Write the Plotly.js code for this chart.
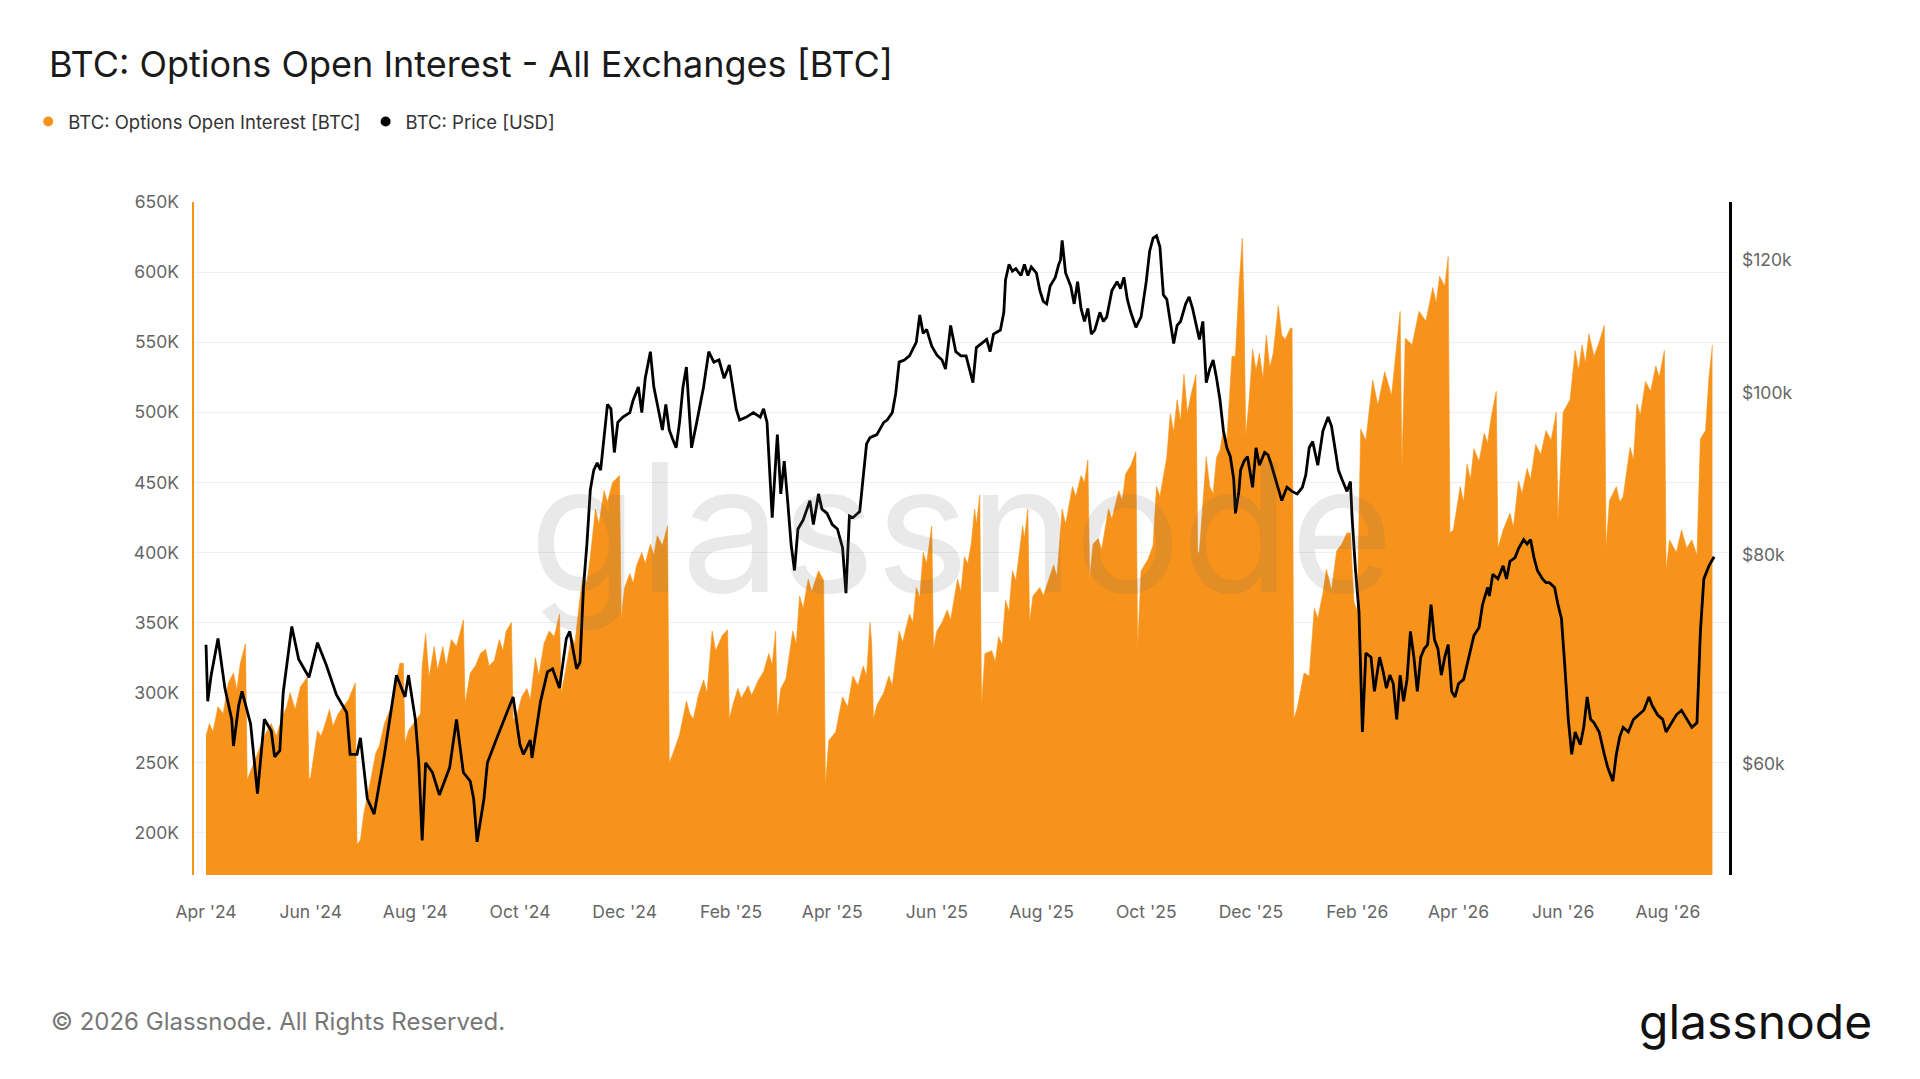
<!DOCTYPE html>
<html>
<head>
<meta charset="utf-8">
<script src="https://cdn.plot.ly/plotly-3.0.1.min.js"></script>
<style>
html,body{margin:0;padding:0;background:#fff;}
#chart{width:1920px;height:1079px;}
</style>
</head>
<body>
<div id="chart"></div>
<script>
// ---------- DATA ----------
const oiDates = [
'2024-04-01','2024-04-03','2024-04-05','2024-04-08','2024-04-11','2024-04-14','2024-04-17','2024-04-19','2024-04-21','2024-04-24','2024-04-25',
'2024-04-28','2024-05-01','2024-05-05','2024-05-09','2024-05-12','2024-05-15','2024-05-18','2024-05-20','2024-05-23','2024-05-26','2024-05-30','2024-05-31',
'2024-06-01','2024-06-05','2024-06-07','2024-06-09','2024-06-12','2024-06-14','2024-06-17','2024-06-20','2024-06-23','2024-06-27','2024-06-28',
'2024-06-30','2024-07-02','2024-07-06','2024-07-09','2024-07-11','2024-07-14','2024-07-18','2024-07-20','2024-07-23','2024-07-25','2024-07-26',
'2024-07-28','2024-08-01','2024-08-04','2024-08-05','2024-08-07','2024-08-09','2024-08-12','2024-08-14','2024-08-17','2024-08-19','2024-08-22','2024-08-25','2024-08-29','2024-08-30',
'2024-09-02','2024-09-05','2024-09-08','2024-09-11','2024-09-13','2024-09-16','2024-09-19','2024-09-21','2024-09-23','2024-09-26','2024-09-27',
'2024-09-29','2024-10-02','2024-10-05','2024-10-07','2024-10-10','2024-10-12','2024-10-15','2024-10-18','2024-10-21','2024-10-24','2024-10-25',
'2024-10-27','2024-10-31','2024-11-02','2024-11-05','2024-11-07','2024-11-09','2024-11-11','2024-11-14','2024-11-16','2024-11-19','2024-11-21','2024-11-24','2024-11-28','2024-11-29',
'2024-12-01','2024-12-04','2024-12-06','2024-12-08','2024-12-11','2024-12-13','2024-12-16','2024-12-18','2024-12-20','2024-12-23','2024-12-26','2024-12-27',
'2024-12-29','2025-01-02','2025-01-06','2025-01-08','2025-01-10','2025-01-13','2025-01-16','2025-01-18','2025-01-21','2025-01-23','2025-01-27','2025-01-30','2025-01-31',
'2025-02-02','2025-02-05','2025-02-07','2025-02-11','2025-02-13','2025-02-17','2025-02-20','2025-02-23','2025-02-25','2025-02-27','2025-02-28',
'2025-03-02','2025-03-05','2025-03-09','2025-03-11','2025-03-13','2025-03-15','2025-03-18','2025-03-20','2025-03-24','2025-03-27','2025-03-28',
'2025-03-30','2025-04-03','2025-04-07','2025-04-10','2025-04-13','2025-04-16','2025-04-19','2025-04-21','2025-04-23','2025-04-24','2025-04-25',
'2025-04-27','2025-05-01','2025-05-04','2025-05-06','2025-05-10','2025-05-12','2025-05-16','2025-05-18','2025-05-20','2025-05-22','2025-05-24','2025-05-26','2025-05-29','2025-05-30',
'2025-06-01','2025-06-04','2025-06-07','2025-06-09','2025-06-13','2025-06-15','2025-06-17','2025-06-19','2025-06-21','2025-06-23','2025-06-24','2025-06-26','2025-06-27',
'2025-06-29','2025-07-03','2025-07-05','2025-07-07','2025-07-09','2025-07-11','2025-07-13','2025-07-15','2025-07-17','2025-07-21','2025-07-22','2025-07-24','2025-07-25',
'2025-07-27','2025-07-31','2025-08-02','2025-08-05','2025-08-08','2025-08-10','2025-08-13','2025-08-15','2025-08-19','2025-08-21','2025-08-24','2025-08-26','2025-08-28','2025-08-29',
'2025-08-31','2025-09-03','2025-09-05','2025-09-09','2025-09-11','2025-09-15','2025-09-17','2025-09-19','2025-09-22','2025-09-25','2025-09-26',
'2025-09-28','2025-10-02','2025-10-05','2025-10-07','2025-10-09','2025-10-13','2025-10-15','2025-10-17','2025-10-19','2025-10-21','2025-10-23','2025-10-25','2025-10-27','2025-10-30','2025-10-31',
'2025-11-01','2025-11-05','2025-11-07','2025-11-09','2025-11-11','2025-11-13','2025-11-15','2025-11-17','2025-11-19','2025-11-20','2025-11-22','2025-11-24','2025-11-26','2025-11-27','2025-11-28',
'2025-11-30','2025-12-02','2025-12-04','2025-12-06','2025-12-08','2025-12-10','2025-12-12','2025-12-14','2025-12-17','2025-12-19','2025-12-21','2025-12-24','2025-12-25','2025-12-26',
'2025-12-28','2026-01-01','2026-01-04','2026-01-07','2026-01-09','2026-01-12','2026-01-14','2026-01-17','2026-01-20','2026-01-23','2026-01-26','2026-01-28','2026-01-30','2026-02-01','2026-02-03',
'2026-02-06','2026-02-10','2026-02-13','2026-02-17','2026-02-21','2026-02-24','2026-02-26','2026-02-27',
'2026-03-01','2026-03-05','2026-03-09','2026-03-13','2026-03-17','2026-03-19','2026-03-21','2026-03-24','2026-03-26','2026-03-27',
'2026-03-29','2026-04-02','2026-04-04','2026-04-06','2026-04-08','2026-04-10','2026-04-13','2026-04-16','2026-04-18','2026-04-20','2026-04-23','2026-04-24',
'2026-04-27','2026-05-01','2026-05-03','2026-05-06','2026-05-08','2026-05-11','2026-05-13','2026-05-16','2026-05-19','2026-05-22','2026-05-25','2026-05-28','2026-05-29',
'2026-06-01','2026-06-05','2026-06-08','2026-06-10','2026-06-12','2026-06-14','2026-06-16','2026-06-19','2026-06-22','2026-06-25','2026-06-26',
'2026-06-28','2026-07-02','2026-07-04','2026-07-06','2026-07-10','2026-07-12','2026-07-14','2026-07-16','2026-07-19','2026-07-22','2026-07-25','2026-07-27','2026-07-30','2026-07-31',
'2026-08-02','2026-08-06','2026-08-09','2026-08-12','2026-08-15','2026-08-18','2026-08-20','2026-08-23','2026-08-25','2026-08-27'];
const oiValues = [
269000,278000,272000,290000,285000,307000,314000,302000,321000,335000,238000,
247000,257000,269000,278000,269000,281000,290000,300000,288000,304000,311000,238000,
240000,273000,269000,276000,288000,276000,285000,290000,295000,307000,192000,
195000,214000,238000,257000,262000,278000,290000,302000,321000,321000,264000,
273000,280000,285000,319000,342000,311000,333000,316000,333000,319000,338000,333000,352000,292000,
314000,319000,328000,331000,319000,323000,338000,330000,344000,350000,281000,
283000,297000,303000,295000,325000,312000,335000,344000,340000,356000,300000,
312000,340000,335000,368000,384000,378000,397000,431000,420000,444000,436000,450000,455000,353000,
375000,385000,378000,391000,400000,392000,406000,398000,412000,405000,419000,250000,
256000,270000,294000,285000,281000,298000,309000,300000,344000,330000,341000,345000,281000,
291000,303000,296000,305000,298000,309000,315000,328000,320000,344000,283000,
303000,310000,344000,335000,369000,360000,381000,372000,387000,380000,234000,
266000,272000,297000,290000,312000,305000,319000,312000,350000,335000,281000,
291000,300000,312000,305000,344000,336000,356000,350000,375000,368000,400000,392000,419000,331000,
344000,350000,359000,352000,381000,372000,397000,392000,406000,431000,420000,441000,291000,
328000,330000,322000,340000,334000,366000,358000,387000,380000,419000,410000,431000,350000,
369000,375000,369000,380000,391000,383000,431000,420000,447000,440000,455000,450000,466000,381000,
406000,410000,402000,431000,424000,444000,437000,456000,462000,472000,331000,
387000,395000,405000,447000,440000,468000,499000,486000,509000,494000,527000,499000,512000,527000,399000,
401000,468000,447000,442000,468000,473000,488000,480000,518000,540000,540000,589000,624000,576000,483000,
509000,545000,530000,542000,524000,555000,532000,542000,576000,555000,552000,560000,560000,281000,
289000,314000,312000,360000,353000,371000,388000,373000,401000,406000,414000,414000,365000,358000,488000,
480000,523000,505000,529000,512000,548000,572000,460000,
553000,548000,572000,565000,589000,578000,597000,590000,611000,414000,
416000,447000,436000,463000,452000,474000,465000,485000,478000,496000,515000,403000,
416000,428000,418000,451000,442000,460000,452000,477000,470000,487000,480000,500000,422000,
500000,509000,544000,530000,548000,535000,556000,540000,550000,562000,403000,
437000,447000,436000,440000,475000,466000,506000,498000,522000,515000,533000,525000,544000,387000,
409000,400000,416000,403000,409000,398000,481000,487000,525000,548000];

const priceDates = ['2024-04-01','2024-04-02','2024-04-04','2024-04-08','2024-04-12','2024-04-16','2024-04-17','2024-04-20','2024-04-22','2024-04-27','2024-05-01','2024-05-05','2024-05-09','2024-05-11','2024-05-14','2024-05-16','2024-05-21','2024-05-25','2024-05-31','2024-06-05','2024-06-10','2024-06-16','2024-06-22','2024-06-24','2024-06-28','2024-06-30','2024-07-04','2024-07-08','2024-07-14','2024-07-19','2024-07-21','2024-07-26','2024-07-28','2024-08-01','2024-08-03','2024-08-05','2024-08-07','2024-08-11','2024-08-15','2024-08-21','2024-08-25','2024-08-29','2024-09-02','2024-09-04','2024-09-06','2024-09-10','2024-09-12','2024-09-17','2024-09-22','2024-09-27','2024-10-01','2024-10-03','2024-10-07','2024-10-08','2024-10-13','2024-10-17','2024-10-20','2024-10-24','2024-10-28','2024-10-30','2024-11-03','2024-11-05','2024-11-07','2024-11-09','2024-11-11','2024-11-13','2024-11-15','2024-11-17','2024-11-21','2024-11-23','2024-11-25','2024-11-27','2024-11-30','2024-12-04','2024-12-06','2024-12-09','2024-12-11','2024-12-13','2024-12-16','2024-12-18','2024-12-21','2024-12-23','2024-12-25','2024-12-27','2024-12-29','2024-12-31',
'2025-01-02','2025-01-04','2025-01-06','2025-01-09','2025-01-12','2025-01-16','2025-01-19','2025-01-22','2025-01-25','2025-01-28','2025-01-31','2025-02-02','2025-02-04','2025-02-06','2025-02-10','2025-02-14','2025-02-18','2025-02-20','2025-02-22','2025-02-25','2025-02-28','2025-03-02','2025-03-04','2025-03-06','2025-03-08','2025-03-10','2025-03-12','2025-03-15','2025-03-19','2025-03-21','2025-03-24','2025-03-26','2025-03-29','2025-04-01','2025-04-04','2025-04-07','2025-04-09','2025-04-11','2025-04-13','2025-04-17','2025-04-21','2025-04-23','2025-04-27','2025-05-01','2025-05-03','2025-05-06','2025-05-08','2025-05-10','2025-05-13','2025-05-16','2025-05-18','2025-05-20','2025-05-22','2025-05-24','2025-05-26','2025-05-29','2025-06-01','2025-06-04','2025-06-06','2025-06-09','2025-06-12','2025-06-15','2025-06-18','2025-06-22','2025-06-24','2025-06-27','2025-06-30','2025-07-02','2025-07-04','2025-07-08','2025-07-10','2025-07-11','2025-07-13','2025-07-15','2025-07-17','2025-07-20','2025-07-22','2025-07-24','2025-07-26','2025-07-29','2025-07-31','2025-08-02','2025-08-04','2025-08-06','2025-08-09','2025-08-11','2025-08-12','2025-08-13','2025-08-15','2025-08-18','2025-08-20','2025-08-22','2025-08-24','2025-08-26','2025-08-28','2025-08-30','2025-09-01','2025-09-04','2025-09-06','2025-09-08','2025-09-11','2025-09-14','2025-09-16','2025-09-18','2025-09-20','2025-09-22','2025-09-25','2025-09-28','2025-10-01','2025-10-03','2025-10-05','2025-10-07','2025-10-09','2025-10-11','2025-10-13','2025-10-15','2025-10-17','2025-10-19','2025-10-21','2025-10-24','2025-10-26','2025-10-28','2025-10-30','2025-11-01','2025-11-03','2025-11-05','2025-11-07','2025-11-09','2025-11-11','2025-11-13','2025-11-15','2025-11-17','2025-11-19','2025-11-21','2025-11-22','2025-11-24','2025-11-25','2025-11-27','2025-11-29','2025-12-02','2025-12-04','2025-12-06','2025-12-09','2025-12-11','2025-12-13','2025-12-16','2025-12-19','2025-12-22','2025-12-25','2025-12-28','2025-12-31',
'2026-01-02','2026-01-04','2026-01-06','2026-01-09','2026-01-12','2026-01-15','2026-01-17','2026-01-19','2026-01-21','2026-01-23','2026-01-26','2026-01-28','2026-01-29','2026-01-31','2026-02-02','2026-02-04','2026-02-06','2026-02-09','2026-02-11','2026-02-14','2026-02-16','2026-02-18','2026-02-20','2026-02-22','2026-02-24','2026-02-26','2026-02-28','2026-03-02','2026-03-04','2026-03-06','2026-03-08','2026-03-10','2026-03-12','2026-03-14','2026-03-16','2026-03-18','2026-03-20','2026-03-22','2026-03-24','2026-03-26','2026-03-28','2026-03-30','2026-04-01','2026-04-04','2026-04-07','2026-04-10','2026-04-13','2026-04-15','2026-04-18','2026-04-19','2026-04-21','2026-04-24','2026-04-27','2026-04-29','2026-05-01','2026-05-04','2026-05-06','2026-05-09','2026-05-11','2026-05-13','2026-05-15','2026-05-17','2026-05-20','2026-05-22','2026-05-24','2026-05-27','2026-05-29','2026-05-31','2026-06-02','2026-06-04','2026-06-06','2026-06-08','2026-06-11','2026-06-13','2026-06-15','2026-06-17','2026-06-19','2026-06-22','2026-06-25','2026-06-27','2026-06-30','2026-07-02','2026-07-04','2026-07-06','2026-07-09','2026-07-12','2026-07-15','2026-07-18','2026-07-21','2026-07-23','2026-07-26','2026-07-29','2026-07-31','2026-08-03','2026-08-06','2026-08-09','2026-08-12','2026-08-15','2026-08-18','2026-08-20','2026-08-22','2026-08-25','2026-08-28'];
const priceValues = [70700,65400,67800,71300,66600,63800,61500,65000,66300,63400,57600,63800,62800,60600,61100,66200,72500,69300,67600,70900,68800,66000,64400,60800,60800,62200,57200,56000,60800,65500,67800,65800,67800,63800,60100,54000,60100,59300,57500,59700,63800,59300,58600,57200,53900,57200,60100,62000,63800,65800,61600,60800,62000,60500,65400,68100,68400,66600,71300,72000,68400,69000,76500,81200,87500,89900,90800,89900,98400,97800,92100,96000,96700,97300,99000,100800,97300,102000,105800,100800,97300,95000,98400,95000,93800,92700,
96000,100800,103600,92700,96000,100800,105800,104300,104600,102000,103900,100800,97800,96300,96700,97300,96700,97800,96000,84200,94400,87000,91000,86200,81200,78300,82900,83900,86200,83400,87000,85200,84700,83400,82900,80800,75900,84400,84200,84900,93200,94000,94400,96000,96300,97300,99900,104300,104600,105200,106200,107200,111300,108500,109100,106600,105300,104600,103300,109700,105800,105200,105200,101400,106400,107000,107600,105800,108400,109000,111700,116800,119300,118200,118600,117500,119300,117500,118900,117900,115100,113400,113000,115800,117200,119300,120000,123300,117900,115800,113000,116500,112300,110300,112300,108400,109000,111700,110300,111000,115100,116500,115400,117200,113700,111700,109400,111000,116500,121500,123700,124100,122200,114400,113700,110300,107000,109700,110300,113000,114100,112300,109700,107600,110300,101400,103300,104600,102000,99000,94900,92700,91600,88800,84700,87300,89900,91000,91600,87800,92700,90500,92100,91800,90500,88300,86200,87800,87300,87000,87800,
89300,92700,93500,90500,94900,96700,95500,92700,89900,88800,87300,88500,84200,78300,74000,62700,69900,69500,66300,69500,68200,66600,67800,67000,63800,67800,65400,67400,72000,69500,66300,69500,70300,70700,74700,71200,70300,67800,69500,70700,66300,65800,67000,67400,69500,71600,72400,74700,76500,75600,77900,77400,78800,77400,79300,79700,80700,81700,81200,81700,79700,78300,77400,77000,77000,76500,74700,73300,68600,63800,60800,62700,61600,63100,65800,63800,63500,62700,60800,59700,58600,60800,62300,63100,62700,63800,64200,64600,65800,65000,64200,63800,62700,63500,64200,64600,63800,63100,63500,72000,77400,78800,79800];

const leftTickVals = [200000,250000,300000,350000,400000,450000,500000,550000,600000,650000];
const leftTickText = ['200K','250K','300K','350K','400K','450K','500K','550K','600K','650K'];
const rightTickVals = [60000,80000,100000,120000];
const rightTickText = ['$60k','$80k','$100k','$120k'];

const seriesNames = ['BTC: Options Open Interest [BTC]','BTC: Price [USD]'];
const titleText = 'BTC: Options Open Interest - All Exchanges [BTC]';

// ---------- STYLE ----------
const ORANGE = '#f7931a';
const FONT = 'Inter, "Noto Sans", Roboto, sans-serif';

const traces = [
  {
    x: oiDates, y: oiValues, type: 'scatter', mode: 'lines',
    line: {color: ORANGE, width: 0.6}, fill: 'tozeroy', fillcolor: ORANGE,
    yaxis: 'y', showlegend: false, hoverinfo: 'skip', name: seriesNames[0]
  },
  {
    x: priceDates, y: priceValues, type: 'scatter', mode: 'lines',
    line: {color: '#000000', width: 2.8}, yaxis: 'y2',
    showlegend: false, hoverinfo: 'skip', name: seriesNames[1]
  },
  { x: [null], y: [null], type: 'scatter', mode: 'markers', name: seriesNames[0],
    marker: {color: ORANGE, size: 10}, yaxis: 'y' },
  { x: [null], y: [null], type: 'scatter', mode: 'markers', name: seriesNames[1],
    marker: {color: '#000000', size: 10}, yaxis: 'y' }
];

const layout = {
  width: 1920, height: 1079,
  paper_bgcolor: '#ffffff', plot_bgcolor: '#ffffff',
  font: {family: FONT, color: '#555'},
  margin: {l: 194, r: 191, t: 202, b: 203.5, pad: 0},
  title: {
    text: titleText, x: 0.0255, xref: 'container', xanchor: 'left',
    y: 1 - 64/1079, yref: 'container', yanchor: 'middle',
    font: {family: FONT, size: 36, color: '#1a1a1a'}
  },
  showlegend: true,
  legend: {
    orientation: 'h', x: -0.108, xanchor: 'left', y: 1.119, yanchor: 'middle',
    font: {family: FONT, size: 18.5, color: '#333'}, bgcolor: 'rgba(0,0,0,0)',
    itemclick: false, itemdoubleclick: false, tracegroupgap: 0
  },
  xaxis: {
    type: 'date', range: ['2024-03-25', '2026-09-05T16:00'],
    showgrid: false, zeroline: false, showline: false,
    tick0: '2024-04-01', dtick: 'M2', tickformat: "%b '%y",
    ticks: '', ticklabelstandoff: 24,
    tickfont: {family: FONT, size: 17.5, color: '#666'}
  },
  yaxis: {
    range: [170000, 650000], tickvals: leftTickVals, ticktext: leftTickText,
    showgrid: true, gridcolor: '#efefef', gridwidth: 1, zeroline: false,
    showline: true, linecolor: ORANGE, linewidth: 2.5,
    ticks: '', ticklabelstandoff: 9,
    tickfont: {family: FONT, size: 17.5, color: '#666'}
  },
  yaxis2: {
    type: 'log', overlaying: 'y', side: 'right',
    range: [Math.log10(51500), Math.log10(130000)],
    tickvals: rightTickVals, ticktext: rightTickText,
    showgrid: false, zeroline: false,
    showline: true, linecolor: '#000000', linewidth: 2.5,
    ticks: '', ticklabelstandoff: 7,
    tickfont: {family: FONT, size: 17.5, color: '#666'}
  },
  annotations: [
    { text: 'glassnode', xref: 'paper', yref: 'paper', x: 0.5, y: 0.517,
      xanchor: 'center', yanchor: 'middle', showarrow: false,
      font: {family: FONT, size: 178, color: 'rgba(110,110,110,0.15)'} },
    { text: '© 2026 Glassnode. All Rights Reserved.', xref: 'paper', yref: 'paper',
      x: -0.0945, y: -0.2175, xanchor: 'left', yanchor: 'middle', showarrow: false,
      font: {family: FONT, size: 24, color: '#777'} },
    { text: 'glassnode', xref: 'paper', yref: 'paper',
      x: 1.0946, y: -0.2175, xanchor: 'right', yanchor: 'middle', showarrow: false,
      font: {family: FONT, size: 48, color: '#111', weight: 400} }
  ]
};

Plotly.newPlot('chart', traces, layout, {displayModeBar: false, staticPlot: true});
</script>
</body>
</html>
